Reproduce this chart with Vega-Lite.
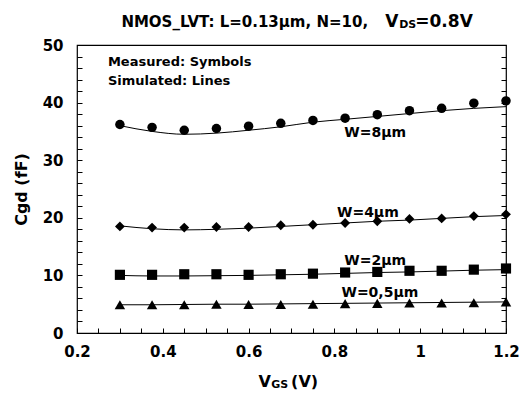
{
  "$schema": "https://vega.github.io/schema/vega-lite/v6.json",
  "width": 429,
  "height": 288,
  "autosize": {"type": "none"},
  "padding": {"left": 77, "top": 45, "right": 23, "bottom": 61},
  "background": "white",
  "config": {"view": {"stroke": "black", "strokeWidth": 1.2}, "font": "DejaVu Sans"},
  "datasets": {
    "cgd": [
      {"W": "8", "vgs": 0.3, "meas": 36.2, "sim": 36.0},
      {"W": "8", "vgs": 0.375, "meas": 35.7, "sim": 35.0},
      {"W": "8", "vgs": 0.45, "meas": 35.2, "sim": 34.5},
      {"W": "8", "vgs": 0.525, "meas": 35.5, "sim": 34.7},
      {"W": "8", "vgs": 0.6, "meas": 35.9, "sim": 35.2},
      {"W": "8", "vgs": 0.675, "meas": 36.4, "sim": 35.8},
      {"W": "8", "vgs": 0.75, "meas": 36.9, "sim": 36.6},
      {"W": "8", "vgs": 0.825, "meas": 37.3, "sim": 37.1},
      {"W": "8", "vgs": 0.9, "meas": 37.9, "sim": 37.6},
      {"W": "8", "vgs": 0.975, "meas": 38.6, "sim": 38.1},
      {"W": "8", "vgs": 1.05, "meas": 39.0, "sim": 38.6},
      {"W": "8", "vgs": 1.125, "meas": 39.9, "sim": 39.0},
      {"W": "8", "vgs": 1.2, "meas": 40.3, "sim": 39.3},
      {"W": "4", "vgs": 0.3, "meas": 18.5, "sim": 18.6},
      {"W": "4", "vgs": 0.375, "meas": 18.3, "sim": 18.1},
      {"W": "4", "vgs": 0.45, "meas": 18.3, "sim": 17.9},
      {"W": "4", "vgs": 0.525, "meas": 18.4, "sim": 18.0},
      {"W": "4", "vgs": 0.6, "meas": 18.4, "sim": 18.2},
      {"W": "4", "vgs": 0.675, "meas": 18.7, "sim": 18.5},
      {"W": "4", "vgs": 0.75, "meas": 18.8, "sim": 18.8},
      {"W": "4", "vgs": 0.825, "meas": 19.1, "sim": 19.1},
      {"W": "4", "vgs": 0.9, "meas": 19.4, "sim": 19.4},
      {"W": "4", "vgs": 0.975, "meas": 19.8, "sim": 19.6},
      {"W": "4", "vgs": 1.05, "meas": 19.9, "sim": 19.9},
      {"W": "4", "vgs": 1.125, "meas": 20.3, "sim": 20.2},
      {"W": "4", "vgs": 1.2, "meas": 20.6, "sim": 20.4},
      {"W": "2", "vgs": 0.3, "meas": 10.1, "sim": 10.0},
      {"W": "2", "vgs": 0.375, "meas": 10.1, "sim": 9.9},
      {"W": "2", "vgs": 0.45, "meas": 10.2, "sim": 9.9},
      {"W": "2", "vgs": 0.525, "meas": 10.2, "sim": 9.95},
      {"W": "2", "vgs": 0.6, "meas": 10.1, "sim": 10.0},
      {"W": "2", "vgs": 0.675, "meas": 10.2, "sim": 10.1},
      {"W": "2", "vgs": 0.75, "meas": 10.3, "sim": 10.2},
      {"W": "2", "vgs": 0.825, "meas": 10.5, "sim": 10.35},
      {"W": "2", "vgs": 0.9, "meas": 10.6, "sim": 10.5},
      {"W": "2", "vgs": 0.975, "meas": 10.8, "sim": 10.6},
      {"W": "2", "vgs": 1.05, "meas": 10.8, "sim": 10.75},
      {"W": "2", "vgs": 1.125, "meas": 11.0, "sim": 10.9},
      {"W": "2", "vgs": 1.2, "meas": 11.2, "sim": 11.0},
      {"W": "0.5", "vgs": 0.3, "meas": 4.9, "sim": 4.9},
      {"W": "0.5", "vgs": 0.375, "meas": 4.9, "sim": 4.9},
      {"W": "0.5", "vgs": 0.45, "meas": 4.9, "sim": 4.95},
      {"W": "0.5", "vgs": 0.525, "meas": 5.0, "sim": 5.0},
      {"W": "0.5", "vgs": 0.6, "meas": 4.95, "sim": 5.0},
      {"W": "0.5", "vgs": 0.675, "meas": 4.95, "sim": 5.05},
      {"W": "0.5", "vgs": 0.75, "meas": 5.0, "sim": 5.1},
      {"W": "0.5", "vgs": 0.825, "meas": 5.1, "sim": 5.15},
      {"W": "0.5", "vgs": 0.9, "meas": 5.15, "sim": 5.2},
      {"W": "0.5", "vgs": 0.975, "meas": 5.2, "sim": 5.25},
      {"W": "0.5", "vgs": 1.05, "meas": 5.2, "sim": 5.3},
      {"W": "0.5", "vgs": 1.125, "meas": 5.25, "sim": 5.35},
      {"W": "0.5", "vgs": 1.2, "meas": 5.4, "sim": 5.4}
    ],
    "wlabels": [
      {"x": 0.895, "y": 34.8, "t": "W=8μm"},
      {"x": 0.878, "y": 20.8, "t": "W=4μm"},
      {"x": 0.895, "y": 12.55, "t": "W=2μm"},
      {"x": 0.906, "y": 6.9, "t": "W=0,5μm"}
    ],
    "notes": [
      {"x": 0.272, "y": 47.1, "t": "Measured: Symbols"},
      {"x": 0.272, "y": 43.8, "t": "Simulated: Lines"}
    ],
    "titleLeft": [
      {"x": 0.8785, "y": 54.0, "t": "NMOS_LVT: L=0.13μm, N=10,"}
    ],
    "bigRight": [
      {"x": 0.652, "y": -8.5, "t": "V"}
    ],
    "xTitleEnd": [
      {"x": 0.699, "y": -8.5, "t": "(V)"}
    ],
    "titleBig": [
      {"x": 0.9185, "y": 54.0, "t": "V"},
      {"x": 0.9885, "y": 54.0, "t": "=0.8V"}
    ],
    "subLeft": [
      {"x": 0.951, "y": 53.4, "t": "DS"},
      {"x": 0.653, "y": -9.0, "t": "GS"}
    ]
  },
  "layer": [
    {
      "data": {"name": "cgd"},
      "mark": {"type": "line", "color": "black", "strokeWidth": 1, "interpolate": "monotone"},
      "encoding": {
        "x": {"field": "vgs", "type": "quantitative",
          "scale": {"domain": [0.2, 1.2], "nice": false, "zero": false},
          "axis": {"orient": "bottom", "values": [0.2, 0.4, 0.6, 0.8, 1, 1.2], "format": "~g", "ticks": false, "domain": false, "grid": false, "title": null,
            "labelFont": "DejaVu Sans", "labelFontWeight": "bold", "labelFontSize": 15, "labelColor": "black", "labelPadding": 11, "labelFlush": false}},
        "y": {"field": "sim", "type": "quantitative",
          "scale": {"domain": [0, 50], "nice": false, "zero": false},
          "axis": {"orient": "left", "values": [0, 10, 20, 30, 40, 50], "ticks": false, "domain": false, "grid": false,
            "title": "Cgd (fF)", "titleFont": "DejaVu Sans", "titleFontWeight": "bold", "titleFontSize": 16, "titleColor": "black", "titlePadding": 13,
            "labelFont": "DejaVu Sans", "labelFontWeight": "bold", "labelFontSize": 15, "labelColor": "black", "labelPadding": 14, "labelFlush": false}},
        "detail": {"field": "W"}
      }
    },
    {
      "data": {"name": "cgd"},
      "mark": {"type": "point", "filled": true, "color": "black", "opacity": 1},
      "encoding": {
        "x": {"field": "vgs", "type": "quantitative",
          "scale": {"domain": [0.2, 1.2], "nice": false, "zero": false},
          "axis": {"orient": "top", "offset": -288, "values": [0.2, 0.25, 0.3, 0.35, 0.4, 0.45, 0.5, 0.55, 0.6, 0.65, 0.7, 0.75, 0.8, 0.85, 0.9, 0.95, 1, 1.05, 1.1, 1.15, 1.2],
            "tickSize": 5, "tickColor": "black", "tickWidth": 1, "labels": false, "domain": false, "grid": false, "title": null, "zindex": 2}},
        "y": {"field": "meas", "type": "quantitative",
          "scale": {"domain": [0, 50], "nice": false, "zero": false},
          "axis": {"orient": "right", "offset": -429, "values": [0, 2, 4, 6, 8, 10, 12, 14, 16, 18, 20, 22, 24, 26, 28, 30, 32, 34, 36, 38, 40, 42, 44, 46, 48, 50],
            "tickSize": 5, "tickColor": "black", "tickWidth": 1, "labels": false, "domain": false, "grid": false, "title": null, "zindex": 2}},
        "shape": {"field": "W", "type": "nominal", "legend": null,
          "scale": {"domain": ["8", "4", "2", "0.5"], "range": ["circle", "diamond", "square", "triangle-up"]}},
        "size": {"field": "W", "type": "nominal", "legend": null,
          "scale": {"domain": ["8", "4", "2", "0.5"], "range": [90, 110, 80, 80]}}
      }
    },
    {
      "data": {"name": "wlabels"},
      "mark": {"type": "text", "font": "DejaVu Sans", "fontWeight": "bold", "fontSize": 14, "color": "black", "align": "center", "baseline": "middle"},
      "encoding": {
        "x": {"field": "x", "type": "quantitative", "scale": {"domain": [0.2, 1.2], "nice": false, "zero": false}, "axis": null},
        "y": {"field": "y", "type": "quantitative", "scale": {"domain": [0, 50], "nice": false, "zero": false},
          "axis": {"orient": "left", "offset": -429, "values": [0, 2, 4, 6, 8, 10, 12, 14, 16, 18, 20, 22, 24, 26, 28, 30, 32, 34, 36, 38, 40, 42, 44, 46, 48, 50],
            "tickSize": 5, "tickColor": "black", "tickWidth": 1, "labels": false, "domain": false, "grid": false, "title": null, "zindex": 2}},
        "text": {"field": "t"}
      }
    },
    {
      "data": {"name": "notes"},
      "mark": {"type": "text", "font": "DejaVu Sans", "fontWeight": "bold", "fontSize": 13, "color": "black", "align": "left", "baseline": "middle"},
      "encoding": {
        "x": {"field": "x", "type": "quantitative", "scale": {"domain": [0.2, 1.2], "nice": false, "zero": false}, "axis": null},
        "y": {"field": "y", "type": "quantitative", "scale": {"domain": [0, 50], "nice": false, "zero": false}, "axis": null},
        "text": {"field": "t"}
      }
    },
    {
      "data": {"name": "titleLeft"},
      "mark": {"type": "text", "font": "DejaVu Sans", "fontWeight": "bold", "fontSize": 15, "color": "black", "align": "right", "baseline": "middle"},
      "encoding": {
        "x": {"field": "x", "type": "quantitative", "scale": {"domain": [0.2, 1.2], "nice": false, "zero": false}, "axis": null},
        "y": {"field": "y", "type": "quantitative", "scale": {"domain": [0, 50], "nice": false, "zero": false}, "axis": null},
        "text": {"field": "t"}
      }
    },
    {
      "data": {"name": "bigRight"},
      "mark": {"type": "text", "font": "DejaVu Sans", "fontWeight": "bold", "fontSize": 16, "color": "black", "align": "right", "baseline": "middle"},
      "encoding": {
        "x": {"field": "x", "type": "quantitative", "scale": {"domain": [0.2, 1.2], "nice": false, "zero": false}, "axis": null},
        "y": {"field": "y", "type": "quantitative", "scale": {"domain": [0, 50], "nice": false, "zero": false}, "axis": null},
        "text": {"field": "t"}
      }
    },
    {
      "data": {"name": "xTitleEnd"},
      "mark": {"type": "text", "font": "DejaVu Sans", "fontWeight": "bold", "fontSize": 16, "color": "black", "align": "left", "baseline": "middle"},
      "encoding": {
        "x": {"field": "x", "type": "quantitative", "scale": {"domain": [0.2, 1.2], "nice": false, "zero": false}, "axis": null},
        "y": {"field": "y", "type": "quantitative", "scale": {"domain": [0, 50], "nice": false, "zero": false}, "axis": null},
        "text": {"field": "t"}
      }
    },
    {
      "data": {"name": "titleBig"},
      "mark": {"type": "text", "font": "DejaVu Sans", "fontWeight": "bold", "fontSize": 17, "color": "black", "align": "left", "baseline": "middle"},
      "encoding": {
        "x": {"field": "x", "type": "quantitative", "scale": {"domain": [0.2, 1.2], "nice": false, "zero": false}, "axis": null},
        "y": {"field": "y", "type": "quantitative", "scale": {"domain": [0, 50], "nice": false, "zero": false}, "axis": null},
        "text": {"field": "t"}
      }
    },
    {
      "data": {"name": "subLeft"},
      "mark": {"type": "text", "font": "DejaVu Sans", "fontWeight": "bold", "fontSize": 11, "color": "black", "align": "left", "baseline": "middle"},
      "encoding": {
        "x": {"field": "x", "type": "quantitative", "scale": {"domain": [0.2, 1.2], "nice": false, "zero": false}, "axis": null},
        "y": {"field": "y", "type": "quantitative", "scale": {"domain": [0, 50], "nice": false, "zero": false}, "axis": null},
        "text": {"field": "t"}
      }
    }
  ],
  "resolve": {"axis": {"x": "independent", "y": "independent"}}
}
